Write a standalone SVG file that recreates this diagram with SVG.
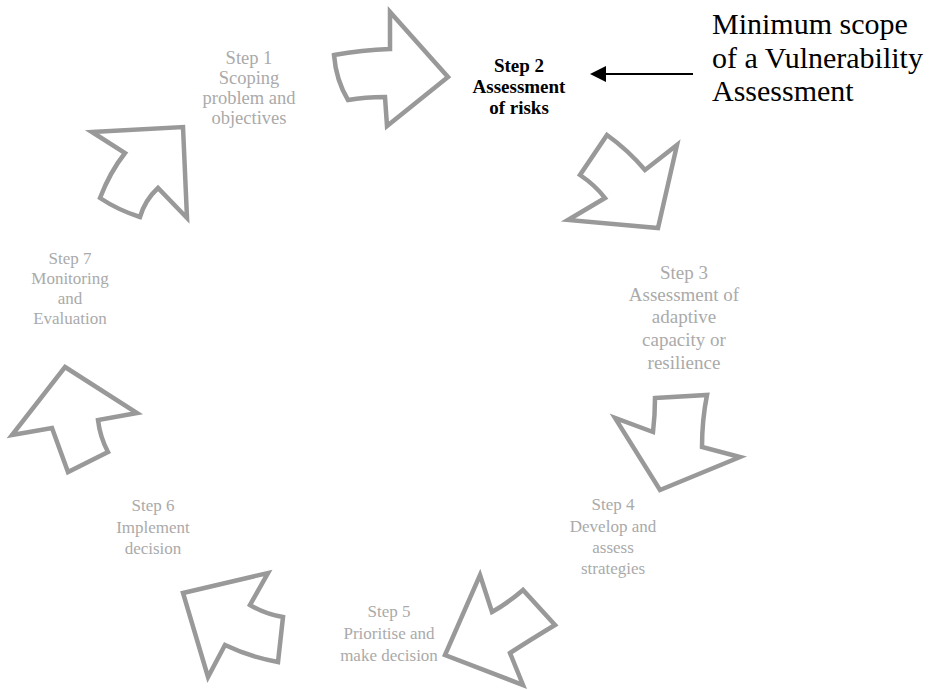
<svg xmlns="http://www.w3.org/2000/svg" width="935" height="690" viewBox="0 0 935 690">
<style>
.arr{fill:#fff;stroke:#999;stroke-width:4.5;stroke-linejoin:miter}
.lbl{font-family:"Liberation Serif","Times New Roman",serif;font-size:17px;fill:#aaa;text-anchor:middle}
.big{font-size:19px}
.mid{font-size:18.5px}
.bold{font-weight:bold;fill:#000;font-size:19px}
.note{font-family:"Liberation Serif","Times New Roman",serif;font-size:30px;fill:#000}
</style>
<rect width="935" height="690" fill="#fff"/>
<g id="arrow1"><path class="arr" d="M334,55 Q362,50 390,49 L390,12 L448,77 L387,126 L385,97 Q365,97 348,100 Q336,80 334,55 Z"/></g>
<g id="arrow2"><path class="arr" d="M92,132 L183,127 L187,218 L158,188 Q145,200 140,217 Q118,210 100,198 Q110,172 125,153 Z"/></g>
<g id="arrow3"><path class="arr" d="M607,135 Q628,150 645,170 L677,145 L658,228 L568,220 L605,198 Q595,185 580,175 Z"/></g>
<g id="arrow4"><path class="arr" d="M655,398 L707,395 Q702,420 702,447 L740,457 L660,490 L615,418 L653,432 Q655,415 655,398 Z"/></g>
<g id="arrow5"><path class="arr" d="M480,575 L492,612 Q508,603 523,590 L555,625 Q530,640 510,653 L523,685 L445,655 Z"/></g>
<g id="arrow6"><path class="arr" d="M183,593 L268,573 L250,605 Q265,614 283,617 L278,662 Q250,657 225,645 L208,677 Z"/></g>
<g id="arrow7"><path class="arr" d="M65,367 L137,413 L98,420 Q100,437 108,452 L68,472 Q60,450 52,428 L12,435 Z"/></g>
<g id="step1"><text class="lbl mid"><tspan x="249" y="64">Step 1</tspan><tspan x="249" y="84">Scoping</tspan><tspan x="249" y="104">problem and</tspan><tspan x="249" y="124">objectives</tspan></text></g>
<g id="step2"><text class="lbl bold"><tspan x="519" y="72">Step 2</tspan><tspan x="519" y="93">Assessment</tspan><tspan x="519" y="114">of risks</tspan></text></g>
<g id="step3"><text class="lbl big"><tspan x="684" y="279">Step 3</tspan><tspan x="684" y="301">Assessment of</tspan><tspan x="684" y="323">adaptive</tspan><tspan x="684" y="346">capacity or</tspan><tspan x="684" y="369">resilience</tspan></text></g>
<g id="step4"><text class="lbl"><tspan x="613" y="510">Step 4</tspan><tspan x="613" y="532">Develop and</tspan><tspan x="613" y="553">assess</tspan><tspan x="613" y="574">strategies</tspan></text></g>
<g id="step5"><text class="lbl"><tspan x="389" y="617">Step 5</tspan><tspan x="389" y="639">Prioritise and</tspan><tspan x="389" y="661">make decision</tspan></text></g>
<g id="step6"><text class="lbl"><tspan x="153" y="511">Step 6</tspan><tspan x="153" y="533">Implement</tspan><tspan x="153" y="554">decision</tspan></text></g>
<g id="step7"><text class="lbl"><tspan x="70" y="264">Step 7</tspan><tspan x="70" y="284">Monitoring</tspan><tspan x="70" y="304">and</tspan><tspan x="70" y="324">Evaluation</tspan></text></g>
<g id="note"><text class="note"><tspan x="712" y="34">Minimum scope</tspan><tspan x="712" y="68">of a Vulnerability</tspan><tspan x="712" y="101">Assessment</tspan></text></g>
<g id="connectors">
<line x1="693" y1="74" x2="604" y2="74" stroke="#000" stroke-width="2"/>
<path d="M590,74 L606,66 L606,82 Z" fill="#000"/>
</g>
</svg>
